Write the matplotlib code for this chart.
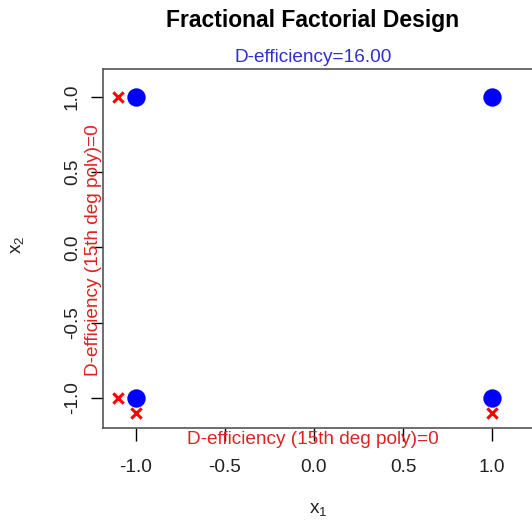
import numpy as np
import matplotlib
matplotlib.use('Agg')
import matplotlib.pyplot as plt

plt.rcParams['font.family'] = ['Liberation Sans', 'DejaVu Sans']

# design points (2^2 factorial corners)
x1 = [-1, 1, -1, 1]
x2 = [1, 1, -1, -1]

# red crosses for the 15th degree polynomial check
cx = [-1.1, -1.1, -1, 1]
cy = [1, -1, -1.1, -1.1]

xticks = [-1.0, -0.5, 0.0, 0.5, 1.0]
yticks = [-1.0, -0.5, 0.0, 0.5, 1.0]

titulo = 'Fractional Factorial Design'
deff = 16.00
deff_poly = 0

W, H = 532, 520
fig = plt.figure(figsize=(W / 100, H / 100), dpi=100)

# plot region (in pixels) - right side runs past the image edge
left, right, top, bottom = 103, 545, 69, 428
ax = fig.add_axes([left / W, 1 - bottom / H, (right - left) / W, (bottom - top) / H])

ax.scatter(x1, x2, s=175, color='blue', zorder=3, linewidths=0)
ax.scatter(cx, cy, s=55, marker='x', color='red', linewidths=2.2, zorder=3)

ax.set_xlim(-1.185, -1 + (right - 136) / 178)
ax.set_ylim(-1.2, 1.186)
ax.set_xticks(xticks)
ax.set_yticks(yticks)
ax.set_xticklabels(['%.1f' % v for v in xticks])
ax.set_yticklabels(['%.1f' % v for v in yticks], rotation=90, va='center')
ax.tick_params(direction='out', length=9, width=1, labelsize=13.7,
               colors='black', labelcolor='#222222')
ax.tick_params(axis='x', pad=13)
ax.tick_params(axis='y', pad=7)
for s in ax.spines.values():
    s.set_color('#555555')
    s.set_linewidth(1.2)

def fx(px):
    return px / W

def fy(py):
    return 1 - py / H

fig.text(fx(313), fy(21), titulo, ha='center', va='center',
         fontsize=16.5, fontweight='bold')
fig.text(fx(313), fy(57), 'D-efficiency=%.2f' % deff, ha='center', va='center',
         fontsize=13.7, color='#3030cc')
fig.text(fx(313), fy(440), 'D-efficiency (15th deg poly)=%d' % deff_poly,
         ha='center', va='center', fontsize=13.7, color='#dd2222')
fig.text(fx(93), fy(250), 'D-efficiency (15th deg poly)=%d' % deff_poly,
         ha='center', va='center', rotation=90, fontsize=13.7, color='#dd2222')
fig.text(fx(318), fy(510), r'$\mathregular{x_1}$', ha='center', va='center',
         fontsize=13.7, color='#222222')
fig.text(fx(18), fy(245), r'$\mathregular{x_2}$', ha='center', va='center',
         rotation=90, fontsize=13.7, color='#222222')

fig.savefig('out.png', dpi=100)
